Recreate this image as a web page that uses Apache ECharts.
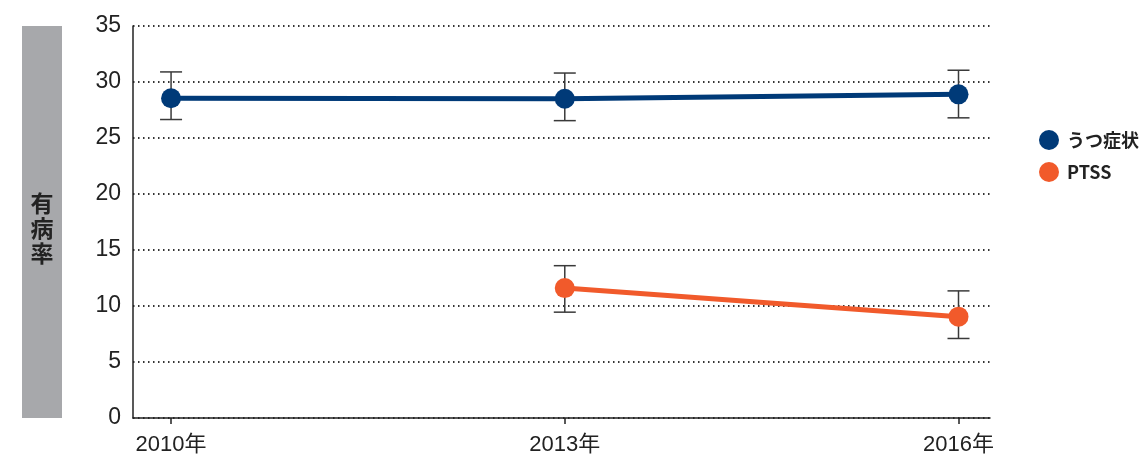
<!DOCTYPE html>
<html>
<head>
<meta charset="utf-8">
<script src="https://cdn.jsdelivr.net/npm/echarts@6/dist/echarts.min.js"></script>
<style>
  html, body { margin: 0; padding: 0; background: #fff; }
  #main { width: 1142px; height: 460px; }
</style>
</head>
<body>
<div id="main"></div>
<script>
var years = [2010, 2013, 2016];
// うつ症状
var depValues = [28.55, 28.5, 28.9];
var depLow = [26.65, 26.55, 26.8];
var depHigh = [30.9, 30.8, 31.05];
// PTSS (2010 なし)
var ptssValues = [null, 11.6, 9.05];
var ptssLow = [null, 9.45, 7.1];
var ptssHigh = [null, 13.6, 11.35];
var yTicks = [0, 5, 10, 15, 20, 25, 30, 35];

var font = "Liberation Sans, Arial, Noto Sans CJK JP, sans-serif";

function toPoints(vals) {
    var out = [];
    for (var i = 0; i < years.length; i++) {
        if (vals[i] != null) out.push([years[i], vals[i]]);
    }
    return out;
}
function toBars(lo, hi) {
    var out = [];
    for (var i = 0; i < years.length; i++) {
        if (lo[i] != null) out.push([years[i], lo[i], hi[i]]);
    }
    return out;
}

// 誤差棒
function renderErr(params, api) {
    var x = api.value(0);
    var top = api.coord([x, api.value(2)]);
    var bot = api.coord([x, api.value(1)]);
    var w = 11;
    var st = { stroke: '#3a3a3a', lineWidth: 1.5 };
    return {
        type: 'group',
        children: [
            { type: 'line', shape: { x1: top[0], y1: top[1], x2: bot[0], y2: bot[1] }, style: st },
            { type: 'line', shape: { x1: top[0] - w, y1: top[1], x2: top[0] + w, y2: top[1] }, style: st },
            { type: 'line', shape: { x1: bot[0] - w, y1: bot[1], x2: bot[0] + w, y2: bot[1] }, style: st }
        ]
    };
}

var myChart = echarts.init(document.getElementById('main'));
var option = {
    animation: false,
    grid: { left: 133, right: 152, top: 26, bottom: 42 },
    legend: {
        data: ['うつ症状', 'PTSS'],
        orient: 'vertical',
        left: 1034,
        top: 125,
        icon: 'circle',
        itemWidth: 20,
        itemHeight: 20,
        itemGap: 12,
        textStyle: { fontSize: 18, fontWeight: 'bold', color: '#222', fontFamily: "Noto Sans CJK JP, sans-serif", padding: [0, 0, 0, 3] }
    },
    xAxis: {
        type: 'value',
        min: 2009.71,
        max: 2016.24,
        splitLine: { show: false },
        axisLine: { show: true, lineStyle: { color: '#222', width: 1.5 } },
        axisTick: { show: true, length: 6, customValues: years, lineStyle: { color: '#222', width: 1.5 } },
        axisLabel: {
            customValues: years,
            formatter: function (v) { return v + '年'; },
            fontSize: 22, color: '#222', margin: 16, fontFamily: font
        }
    },
    yAxis: {
        type: 'value',
        min: 0,
        max: 35,
        interval: 5,
        axisLine: { show: true, lineStyle: { color: '#222', width: 1.5 } },
        axisTick: { show: false },
        axisLabel: { fontSize: 23, color: '#222', margin: 12, fontFamily: font },
        splitLine: { show: true, lineStyle: { color: '#333', width: 1.8, type: [1.5, 3.5] } }
    },
    graphic: [
        { type: 'rect', shape: { x: 22, y: 26, width: 40, height: 392 }, style: { fill: '#a7a8ab' } },
        {
            type: 'text', x: 42, y: 228,
            style: {
                text: '有\n病\n率', fill: '#222', fontSize: 23, fontWeight: 'bold',
                lineHeight: 25, align: 'center', verticalAlign: 'middle',
                fontFamily: "Noto Sans CJK JP, sans-serif"
            }
        }
    ],
    series: [
        { type: 'custom', renderItem: renderErr, data: toBars(depLow, depHigh), encode: { x: 0, y: [1, 2] }, z: 1, silent: true },
        { type: 'custom', renderItem: renderErr, data: toBars(ptssLow, ptssHigh), encode: { x: 0, y: [1, 2] }, z: 1, silent: true },
        {
            name: 'うつ症状', type: 'line', data: toPoints(depValues), z: 3,
            symbol: 'circle', symbolSize: 20,
            itemStyle: { color: '#003a78' },
            lineStyle: { color: '#003a78', width: 5 }
        },
        {
            name: 'PTSS', type: 'line', data: toPoints(ptssValues), z: 3,
            symbol: 'circle', symbolSize: 20,
            itemStyle: { color: '#f15a2b' },
            lineStyle: { color: '#f15a2b', width: 5 }
        }
    ]
};
myChart.setOption(option);
</script>
</body>
</html>
